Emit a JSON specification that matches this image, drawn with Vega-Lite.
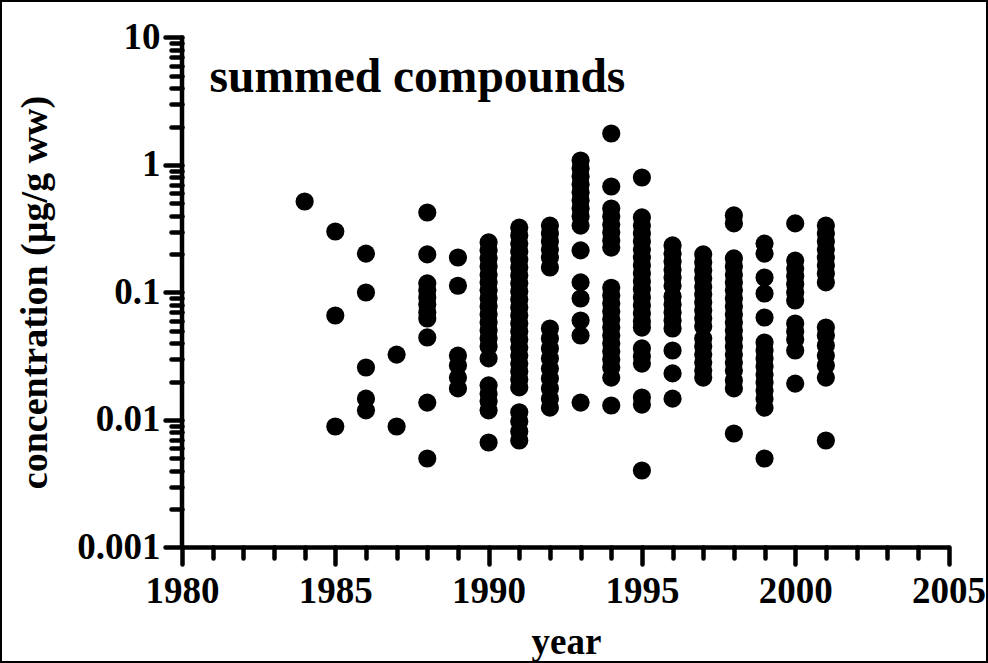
{
  "$schema": "https://vega.github.io/schema/vega-lite/v6.json",
  "width": 988,
  "height": 663,
  "autosize": {"type": "none"},
  "padding": 0,
  "background": "white",
  "config": {
    "view": {"stroke": "black", "strokeWidth": 4},
    "font": "Liberation Serif"
  },
  "resolve": {"axis": {"x": "independent", "y": "independent"}},
  "datasets": {
    "pts": [
      {"year":1984,"conc":0.517},
      {"year":1985,"conc":0.301},{"year":1985,"conc":0.066},{"year":1985,"conc":0.00889},
      {"year":1986,"conc":0.202},{"year":1986,"conc":0.100},{"year":1986,"conc":0.0258},{"year":1986,"conc":0.0147},{"year":1986,"conc":0.0119},
      {"year":1987,"conc":0.0326},{"year":1987,"conc":0.00889},
      {"year":1988,"conc":0.424},{"year":1988,"conc":0.199},{"year":1988,"conc":0.118},{"year":1988,"conc":0.104},{"year":1988,"conc":0.0914},{"year":1988,"conc":0.0805},{"year":1988,"conc":0.0697},{"year":1988,"conc":0.0625},{"year":1988,"conc":0.0444},{"year":1988,"conc":0.0137},{"year":1988,"conc":0.00499},
      {"year":1989,"conc":0.188},{"year":1989,"conc":0.113},{"year":1989,"conc":0.0320},{"year":1989,"conc":0.0268},{"year":1989,"conc":0.0215},{"year":1989,"conc":0.0177},
      {"year":1990,"conc":0.247},{"year":1990,"conc":0.214},{"year":1990,"conc":0.185},{"year":1990,"conc":0.160},{"year":1990,"conc":0.138},{"year":1990,"conc":0.120},{"year":1990,"conc":0.104},{"year":1990,"conc":0.0897},{"year":1990,"conc":0.0777},{"year":1990,"conc":0.0672},{"year":1990,"conc":0.0582},{"year":1990,"conc":0.0504},{"year":1990,"conc":0.0436},{"year":1990,"conc":0.0377},{"year":1990,"conc":0.0304},{"year":1990,"conc":0.0187},{"year":1990,"conc":0.0161},{"year":1990,"conc":0.0140},{"year":1990,"conc":0.0119},{"year":1990,"conc":0.00666},
      {"year":1991,"conc":0.323},{"year":1991,"conc":0.280},{"year":1991,"conc":0.242},{"year":1991,"conc":0.210},{"year":1991,"conc":0.181},{"year":1991,"conc":0.157},{"year":1991,"conc":0.136},{"year":1991,"conc":0.118},{"year":1991,"conc":0.102},{"year":1991,"conc":0.0881},{"year":1991,"conc":0.0763},{"year":1991,"conc":0.0660},{"year":1991,"conc":0.0571},{"year":1991,"conc":0.0494},{"year":1991,"conc":0.0428},{"year":1991,"conc":0.0370},{"year":1991,"conc":0.0320},{"year":1991,"conc":0.0277},{"year":1991,"conc":0.0240},{"year":1991,"conc":0.0208},{"year":1991,"conc":0.0180},{"year":1991,"conc":0.0115},{"year":1991,"conc":0.00973},{"year":1991,"conc":0.00813},{"year":1991,"conc":0.00691},
      {"year":1992,"conc":0.335},{"year":1992,"conc":0.290},{"year":1992,"conc":0.251},{"year":1992,"conc":0.217},{"year":1992,"conc":0.188},{"year":1992,"conc":0.157},{"year":1992,"conc":0.0522},{"year":1992,"conc":0.0436},{"year":1992,"conc":0.0364},{"year":1992,"conc":0.0304},{"year":1992,"conc":0.0253},{"year":1992,"conc":0.0212},{"year":1992,"conc":0.0177},{"year":1992,"conc":0.0147},{"year":1992,"conc":0.0125},
      {"year":1993,"conc":1.085},{"year":1993,"conc":0.939},{"year":1993,"conc":0.812},{"year":1993,"conc":0.703},{"year":1993,"conc":0.609},{"year":1993,"conc":0.527},{"year":1993,"conc":0.456},{"year":1993,"conc":0.395},{"year":1993,"conc":0.335},{"year":1993,"conc":0.214},{"year":1993,"conc":0.120},{"year":1993,"conc":0.0897},{"year":1993,"conc":0.0603},{"year":1993,"conc":0.0460},{"year":1993,"conc":0.0137},
      {"year":1994,"conc":1.766},{"year":1994,"conc":0.678},{"year":1994,"conc":0.456},{"year":1994,"conc":0.395},{"year":1994,"conc":0.341},{"year":1994,"conc":0.296},{"year":1994,"conc":0.256},{"year":1994,"conc":0.225},{"year":1994,"conc":0.109},{"year":1994,"conc":0.0947},{"year":1994,"conc":0.0820},{"year":1994,"conc":0.0710},{"year":1994,"conc":0.0614},{"year":1994,"conc":0.0531},{"year":1994,"conc":0.0460},{"year":1994,"conc":0.0398},{"year":1994,"conc":0.0345},{"year":1994,"conc":0.0298},{"year":1994,"conc":0.0258},{"year":1994,"conc":0.0215},{"year":1994,"conc":0.0130},
      {"year":1995,"conc":0.798},{"year":1995,"conc":0.388},{"year":1995,"conc":0.335},{"year":1995,"conc":0.290},{"year":1995,"conc":0.251},{"year":1995,"conc":0.217},{"year":1995,"conc":0.188},{"year":1995,"conc":0.163},{"year":1995,"conc":0.141},{"year":1995,"conc":0.122},{"year":1995,"conc":0.106},{"year":1995,"conc":0.0914},{"year":1995,"conc":0.0791},{"year":1995,"conc":0.0684},{"year":1995,"conc":0.0593},{"year":1995,"conc":0.0531},{"year":1995,"conc":0.0364},{"year":1995,"conc":0.0315},{"year":1995,"conc":0.0277},{"year":1995,"conc":0.0150},{"year":1995,"conc":0.0132},{"year":1995,"conc":0.00402},
      {"year":1996,"conc":0.234},{"year":1996,"conc":0.202},{"year":1996,"conc":0.175},{"year":1996,"conc":0.151},{"year":1996,"conc":0.131},{"year":1996,"conc":0.113},{"year":1996,"conc":0.0930},{"year":1996,"conc":0.0805},{"year":1996,"conc":0.0697},{"year":1996,"conc":0.0603},{"year":1996,"conc":0.0522},{"year":1996,"conc":0.0351},{"year":1996,"conc":0.0232},{"year":1996,"conc":0.0147},
      {"year":1997,"conc":0.199},{"year":1997,"conc":0.172},{"year":1997,"conc":0.149},{"year":1997,"conc":0.129},{"year":1997,"conc":0.111},{"year":1997,"conc":0.0965},{"year":1997,"conc":0.0835},{"year":1997,"conc":0.0722},{"year":1997,"conc":0.0625},{"year":1997,"conc":0.0541},{"year":1997,"conc":0.0436},{"year":1997,"conc":0.0377},{"year":1997,"conc":0.0326},{"year":1997,"conc":0.0282},{"year":1997,"conc":0.0244},{"year":1997,"conc":0.0215},
      {"year":1998,"conc":0.402},{"year":1998,"conc":0.348},{"year":1998,"conc":0.185},{"year":1998,"conc":0.160},{"year":1998,"conc":0.138},{"year":1998,"conc":0.120},{"year":1998,"conc":0.104},{"year":1998,"conc":0.0897},{"year":1998,"conc":0.0777},{"year":1998,"conc":0.0672},{"year":1998,"conc":0.0582},{"year":1998,"conc":0.0504},{"year":1998,"conc":0.0436},{"year":1998,"conc":0.0377},{"year":1998,"conc":0.0326},{"year":1998,"conc":0.0282},{"year":1998,"conc":0.0244},{"year":1998,"conc":0.0204},{"year":1998,"conc":0.0177},{"year":1998,"conc":0.00784},
      {"year":1999,"conc":0.242},{"year":1999,"conc":0.202},{"year":1999,"conc":0.131},{"year":1999,"conc":0.0982},{"year":1999,"conc":0.0637},{"year":1999,"conc":0.0405},{"year":1999,"conc":0.0351},{"year":1999,"conc":0.0304},{"year":1999,"conc":0.0263},{"year":1999,"conc":0.0227},{"year":1999,"conc":0.0197},{"year":1999,"conc":0.0170},{"year":1999,"conc":0.0147},{"year":1999,"conc":0.0125},{"year":1999,"conc":0.00499},
      {"year":2000,"conc":0.348},{"year":2000,"conc":0.178},{"year":2000,"conc":0.154},{"year":2000,"conc":0.134},{"year":2000,"conc":0.116},{"year":2000,"conc":0.100},{"year":2000,"conc":0.0866},{"year":2000,"conc":0.0571},{"year":2000,"conc":0.0494},{"year":2000,"conc":0.0428},{"year":2000,"conc":0.0351},{"year":2000,"conc":0.0193},
      {"year":2001,"conc":0.335},{"year":2001,"conc":0.290},{"year":2001,"conc":0.251},{"year":2001,"conc":0.217},{"year":2001,"conc":0.188},{"year":2001,"conc":0.163},{"year":2001,"conc":0.141},{"year":2001,"conc":0.120},{"year":2001,"conc":0.0531},{"year":2001,"conc":0.0460},{"year":2001,"conc":0.0384},{"year":2001,"conc":0.0320},{"year":2001,"conc":0.0268},{"year":2001,"conc":0.0215},{"year":2001,"conc":0.00691}
    ],
    "one": [{}]
  },
  "layer": [
    {
      "data": {"name": "pts"},
      "mark": {"type": "point", "filled": true, "shape": "circle", "size": 330, "color": "black", "opacity": 1, "strokeWidth": 0},
      "encoding": {
        "x": {
          "field": "year", "type": "quantitative",
          "scale": {"type": "linear", "domain": [1974.064, 2006.288], "nice": false, "zero": false},
          "axis": {
            "orient": "bottom", "title": "year", "offset": -116, "domain": false, "grid": false,
            "values": [1980,1985,1990,1995,2000,2005],
            "format": "d",
            "tickSize": 17, "tickWidth": 4.5, "tickColor": "black", "tickCap": "round",
            "labelFont": "Liberation Serif", "labelFontWeight": "bold", "labelFontSize": 37, "labelColor": "black",
            "labelPadding": 9, "labelOverlap": false, "labelFlush": false,
            "titleFont": "Liberation Serif", "titleFontWeight": "bold", "titleFontSize": 37, "titleColor": "black",
            "titleX": 566, "titleY": 106, "titleBaseline": "alphabetic", "titleAlign": "center"
          }
        },
        "y": {
          "field": "conc", "type": "quantitative",
          "scale": {"type": "log", "domain": [0.0001242, 19.68], "nice": false},
          "axis": {
            "orient": "left", "title": "concentration (µg/g ww)", "offset": -182, "domain": false, "grid": false,
            "values": [0.001,0.01,0.1,1,10],
            "format": "~g",
            "tickSize": 17, "tickWidth": 4.5, "tickColor": "black", "tickCap": "round",
            "labelFont": "Liberation Serif", "labelFontWeight": "bold", "labelFontSize": 37, "labelColor": "black",
            "labelPadding": 5, "labelOverlap": false, "labelFlush": false,
            "titleFont": "Liberation Serif", "titleFontWeight": "bold", "titleFontSize": 38, "titleColor": "black",
            "titleX": -136, "titleY": 292, "titleAngle": -90, "titleBaseline": "alphabetic", "titleAlign": "center"
          }
        }
      }
    },
    {
      "data": {"name": "one"},
      "mark": {"type": "rule", "color": "black", "strokeWidth": 4.5, "strokeCap": "round"},
      "encoding": {
        "x": {"datum": 1980, "type": "quantitative", "scale": {"type": "linear", "domain": [1974.064, 2006.288], "nice": false, "zero": false},
          "axis": {
            "orient": "bottom", "title": null, "offset": -116, "domain": false, "grid": false, "labels": false,
            "values": [1981,1982,1983,1984,1986,1987,1988,1989,1991,1992,1993,1994,1996,1997,1998,1999,2001,2002,2003,2004],
            "tickSize": 11, "tickWidth": 4.5, "tickColor": "black", "tickCap": "round"
          }},
        "x2": {"datum": 2005},
        "y": {"datum": 0.001, "type": "quantitative", "scale": {"type": "log", "domain": [0.0001242, 19.68], "nice": false},
          "axis": {
            "orient": "left", "title": null, "offset": -182, "domain": false, "grid": false, "labels": false,
            "values": [0.002,0.003,0.004,0.005,0.006,0.007,0.008,0.009,0.02,0.03,0.04,0.05,0.06,0.07,0.08,0.09,0.2,0.3,0.4,0.5,0.6,0.7,0.8,0.9,2,3,4,5,6,7,8,9],
            "tickSize": 11, "tickWidth": 4.5, "tickColor": "black", "tickCap": "round"
          }}
      }
    },
    {
      "data": {"name": "one"},
      "mark": {"type": "rule", "color": "black", "strokeWidth": 4.5, "strokeCap": "round"},
      "encoding": {
        "x": {"datum": 1980, "type": "quantitative", "scale": {"type": "linear", "domain": [1974.064, 2006.288], "nice": false, "zero": false}, "axis": null},
        "y": {"datum": 0.001, "type": "quantitative", "scale": {"type": "log", "domain": [0.0001242, 19.68], "nice": false}, "axis": null},
        "y2": {"datum": 10}
      }
    },
    {
      "data": {"name": "one"},
      "mark": {"type": "text", "text": "summed compounds", "align": "left", "baseline": "alphabetic", "font": "Liberation Serif", "fontWeight": "bold", "fontSize": 47.5, "color": "black"},
      "encoding": {
        "x": {"datum": 1980.9, "type": "quantitative", "scale": {"type": "linear", "domain": [1974.064, 2006.288], "nice": false, "zero": false}, "axis": null},
        "y": {"datum": 3.74, "type": "quantitative", "scale": {"type": "log", "domain": [0.0001242, 19.68], "nice": false}, "axis": null}
      }
    }
  ]
}
